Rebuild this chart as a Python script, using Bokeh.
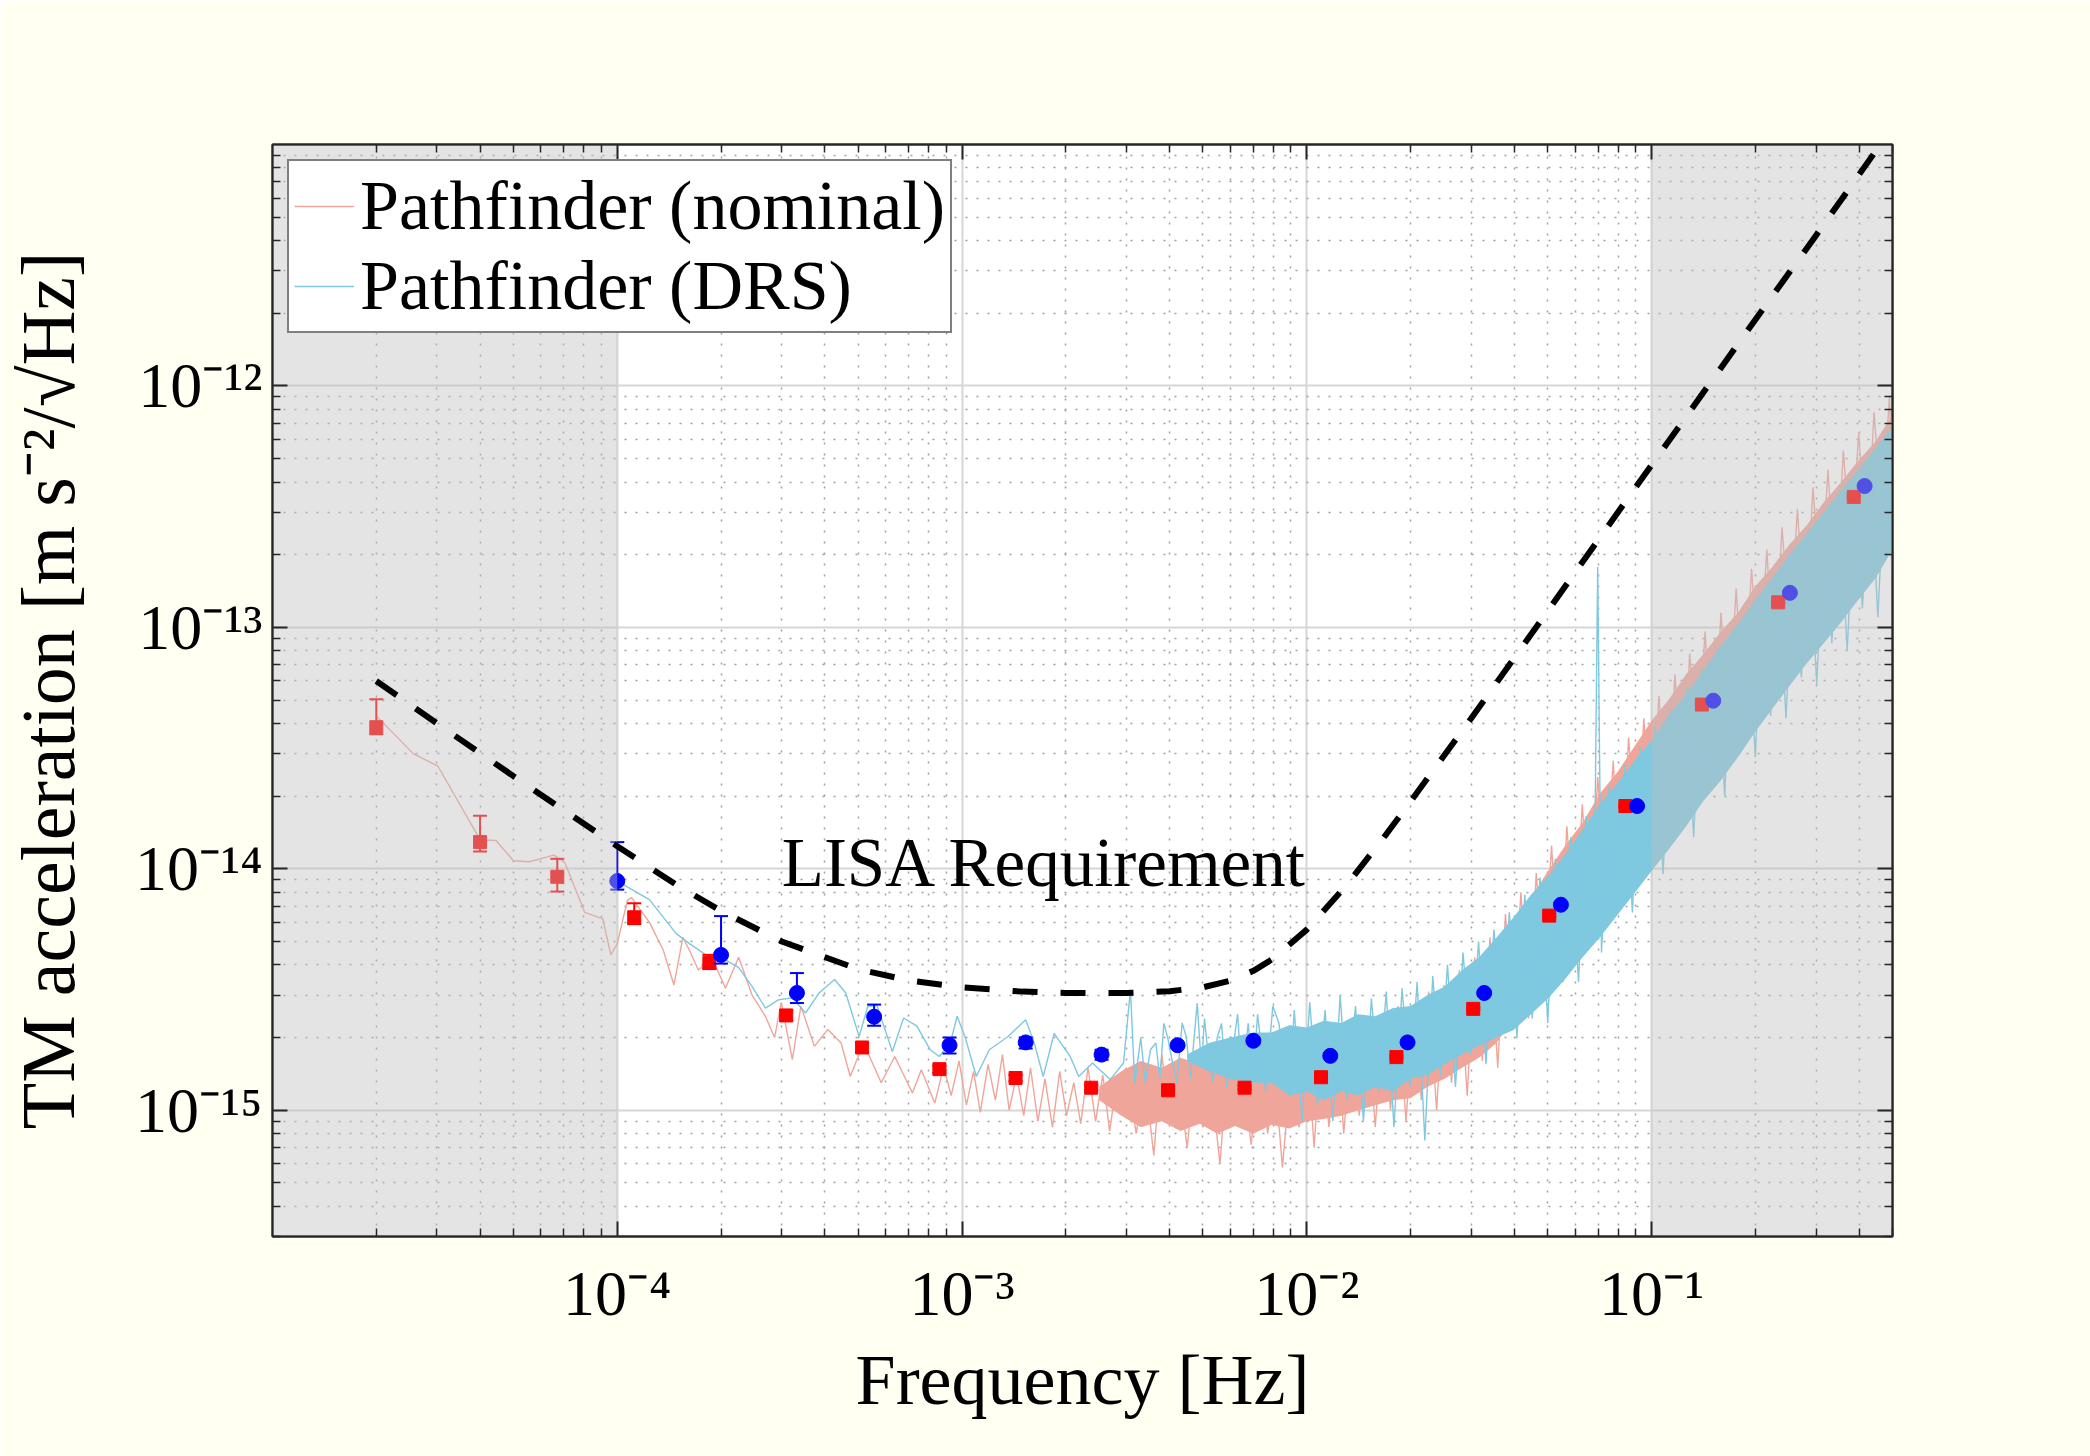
from bokeh.plotting import figure
from bokeh.models import Range1d, LogAxis, FixedTicker, CustomJSTickFormatter, Legend, LegendItem
from bokeh.embed import file_html
from bokeh.resources import INLINE
from bokeh.core.properties import value

# ---------------- axes ----------------
X_RANGE = (1e-5, 0.5)
Y_RANGE = (3e-16, 1e-11)
X_TICKS = [1e-4, 1e-3, 1e-2, 1e-1]
Y_TICKS = [1e-15, 1e-14, 1e-13, 1e-12]
X_MINOR = [m * 10.0 ** e for e in range(-6, 0) for m in range(2, 10)]
Y_MINOR = [m * 10.0 ** e for e in range(-17, -10) for m in range(2, 10)]

# shaded (out-of-band) frequency regions
SHADE_LEFT = [1e-5, 1e-1]
SHADE_RIGHT = [1e-4, 0.5]

# ---------------- Pathfinder (nominal) trace ----------------
NOM_F_LOW = [2.0e-5, 2.56e-5, 3.02e-5, 4.0e-5, 4.45e-5, 5.0e-5, 5.56e-5, 6.55e-5, 7.05e-5, 8.05e-5,
             9.08e-5, 9.58e-5, 1.0e-4, 1.07e-4, 1.10e-4, 1.24e-4, 1.36e-4, 1.46e-4, 1.55e-4, 1.62e-4,
             1.72e-4, 1.88e-4, 2.06e-4, 2.25e-4, 2.46e-4, 2.69e-4, 2.86e-4, 2.99e-4, 3.22e-4, 3.41e-4,
             3.73e-4, 4.08e-4, 4.46e-4, 4.74e-4, 5.18e-4, 5.83e-4, 6.38e-4, 7.18e-4, 7.62e-4, 8.34e-4,
             8.85e-4, 9.3e-4, 9.8e-4, 1.03e-3, 1.08e-3, 1.13e-3, 1.19e-3, 1.25e-3, 1.31e-3, 1.37e-3,
             1.44e-3, 1.51e-3, 1.58e-3, 1.66e-3, 1.74e-3, 1.83e-3, 1.92e-3, 2.01e-3, 2.11e-3, 2.21e-3,
             2.32e-3, 2.44e-3, 2.56e-3, 2.68e-3, 2.82e-3,
             3.0e-3, 3.2e-3, 3.4e-3, 3.6e-3, 3.8e-3, 4.0e-3, 4.25e-3, 4.5e-3, 4.75e-3, 5.0e-3,
             5.3e-3, 5.6e-3, 5.9e-3, 6.2e-3, 6.5e-3, 6.9e-3, 7.3e-3, 7.7e-3, 8.1e-3, 8.5e-3,
             9.0e-3, 9.5e-3]
NOM_A_LOW = [4.3e-14, 3.0e-14, 2.66e-14, 1.32e-14, 1.31e-14, 1.08e-14, 1.07e-14, 1.14e-14, 1.06e-14, 6.6e-15,
             6.2e-15, 4.4e-15, 4.9e-15, 7.4e-15, 7.6e-15, 6.0e-15, 4.6e-15, 3.3e-15, 5.2e-15, 4.6e-15,
             3.8e-15, 4.3e-15, 3.2e-15, 4.3e-15, 3.0e-15, 2.45e-15, 2.0e-15, 2.8e-15, 1.62e-15, 2.7e-15,
             1.84e-15, 2.16e-15, 1.9e-15, 1.38e-15, 1.9e-15, 1.3e-15, 1.67e-15, 1.18e-15, 1.47e-15, 1.07e-15,
             1.52e-15, 1.15e-15, 1.6e-15, 1.05e-15, 1.45e-15, 0.98e-15, 1.55e-15, 1.1e-15, 1.7e-15, 1.0e-15,
             1.4e-15, 0.95e-15, 1.5e-15, 0.9e-15, 1.35e-15, 0.85e-15, 1.45e-15, 0.95e-15, 1.3e-15, 0.88e-15,
             1.5e-15, 0.9e-15, 1.4e-15, 0.82e-15, 1.35e-15,
             1.5e-15, 0.8e-15, 1.35e-15, 0.65e-15, 1.7e-15, 0.9e-15, 1.3e-15, 0.7e-15, 1.55e-15, 0.85e-15,
             1.25e-15, 0.6e-15, 1.6e-15, 0.95e-15, 1.4e-15, 0.72e-15, 1.75e-15, 0.8e-15, 1.35e-15, 0.58e-15,
             1.5e-15, 0.85e-15]
NOM_F_HIGH = [1.0e-2, 1.05e-2, 1.1e-2, 1.16e-2, 1.22e-2, 1.28e-2, 1.35e-2, 1.42e-2,
              1.5e-2, 1.58e-2, 1.66e-2, 1.75e-2, 1.84e-2, 1.94e-2, 2.04e-2, 2.15e-2, 2.26e-2, 2.38e-2,
              2.5e-2, 2.63e-2, 2.77e-2, 2.92e-2, 3.07e-2, 3.23e-2, 3.4e-2, 3.58e-2, 3.77e-2, 3.97e-2,
              4.18e-2, 4.4e-2, 4.63e-2, 4.87e-2, 5.13e-2, 5.4e-2, 5.68e-2, 5.98e-2, 6.3e-2, 6.63e-2,
              6.98e-2, 7.35e-2, 7.74e-2, 8.15e-2, 8.58e-2, 9.03e-2, 9.5e-2,
              0.1, 0.105, 0.111, 0.117, 0.123, 0.129, 0.136, 0.143, 0.151, 0.159,
              0.167, 0.176, 0.185, 0.195, 0.205, 0.216, 0.227, 0.239, 0.252, 0.265,
              0.279, 0.294, 0.309, 0.325, 0.342, 0.36, 0.379, 0.399, 0.42, 0.442,
              0.465, 0.49, 0.5]
NOM_A_HIGH = [2.1e-15, 0.7e-15, 1.9e-15, 0.85e-15, 2.2e-15, 0.8e-15, 2.0e-15, 0.95e-15,
              2.4e-15, 0.85e-15, 2.3e-15, 1.0e-15, 2.7e-15, 0.9e-15, 2.6e-15, 1.1e-15, 3.1e-15, 1.0e-15,
              3.3e-15, 1.3e-15, 3.8e-15, 1.15e-15, 4.3e-15, 1.6e-15, 5.2e-15, 1.5e-15, 6.5e-15, 2.3e-15,
              8.0e-15, 2.4e-15, 9.6e-15, 3.5e-15, 12.5e-15, 3.5e-15, 15e-15, 5.3e-15, 18.5e-15, 5.4e-15,
              24e-15, 8.2e-15, 28e-15, 8.0e-15, 35e-15, 12.5e-15, 42e-15,
              1.2e-14, 5.2e-14, 1.9e-14, 6.4e-14, 1.8e-14, 7.8e-14, 2.8e-14, 9.6e-14, 2.7e-14, 11.5e-14,
              4.1e-14, 14.5e-14, 4.1e-14, 17.5e-14, 6.3e-14, 21e-14, 6.2e-14, 26e-14, 9.5e-14, 31e-14,
              9.2e-14, 38e-14, 14e-14, 45e-14, 13e-14, 54e-14, 20e-14, 64e-14, 19e-14, 78e-14,
              29e-14, 90e-14, 33e-14]
NOM_F = NOM_F_LOW + NOM_F_HIGH
NOM_A = NOM_A_LOW + NOM_A_HIGH

# dense body of the nominal spectrum (core of the noise band)
NOM_BAND_F = [2.5e-3, 2.9e-3, 3.3e-3, 3.8e-3, 4.3e-3, 4.9e-3, 5.5e-3, 6.2e-3, 7.0e-3, 7.9e-3,
              8.9e-3, 1.0e-2, 1.12e-2, 1.26e-2, 1.41e-2, 1.58e-2, 1.78e-2, 2.0e-2, 2.24e-2, 2.51e-2,
              2.82e-2, 3.16e-2, 3.55e-2, 3.98e-2, 4.47e-2, 5.01e-2, 5.62e-2, 6.31e-2, 7.08e-2, 7.94e-2,
              8.91e-2, 0.1, 0.112, 0.126, 0.141, 0.158, 0.178, 0.2, 0.224, 0.251,
              0.282, 0.316, 0.355, 0.398, 0.447, 0.5]
NOM_BAND_LO = [1.1e-15, 0.95e-15, 0.85e-15, 0.9e-15, 0.82e-15, 0.88e-15, 0.8e-15, 0.86e-15, 0.8e-15, 0.87e-15,
               0.84e-15, 0.9e-15, 0.92e-15, 0.95e-15, 1.0e-15, 1.05e-15, 1.1e-15, 1.12e-15, 1.25e-15, 1.35e-15,
               1.5e-15, 1.65e-15, 1.9e-15, 2.4e-15, 3.0e-15, 3.7e-15, 4.6e-15, 6.0e-15, 7.4e-15, 9.5e-15,
               1.18e-14, 1.5e-14, 1.85e-14, 2.4e-14, 2.8e-14, 3.5e-14, 4.2e-14, 5.4e-14, 6.4e-14, 8.0e-14,
               9.6e-14, 1.2e-13, 1.45e-13, 1.8e-13, 2.15e-13, 2.75e-13]
NOM_BAND_HI = [1.25e-15, 1.45e-15, 1.6e-15, 1.5e-15, 1.65e-15, 1.55e-15, 1.6e-15, 1.7e-15, 1.58e-15, 1.72e-15,
               1.65e-15, 1.8e-15, 1.75e-15, 1.95e-15, 1.9e-15, 2.2e-15, 2.15e-15, 2.45e-15, 2.6e-15, 3.1e-15,
               3.5e-15, 4.1e-15, 4.9e-15, 6.2e-15, 7.6e-15, 9.8e-15, 1.25e-14, 1.55e-14, 2.05e-14, 2.5e-14,
               3.2e-14, 4.1e-14, 5.0e-14, 6.4e-14, 7.7e-14, 9.5e-14, 1.15e-13, 1.48e-13, 1.78e-13, 2.2e-13,
               2.65e-13, 3.3e-13, 4.0e-13, 4.9e-13, 5.9e-13, 7.6e-13]

# ---------------- Pathfinder (DRS) trace ----------------
DRS_F_LOW = [1.0e-4, 1.24e-4, 1.48e-4, 1.62e-4, 1.83e-4, 2.06e-4, 2.25e-4, 2.46e-4, 2.69e-4, 2.94e-4,
             3.22e-4, 3.52e-4, 3.85e-4, 4.27e-4, 4.6e-4, 5.03e-4, 5.33e-4, 5.66e-4, 6.28e-4, 6.77e-4,
             7.4e-4, 8.09e-4, 8.59e-4, 9.25e-4, 9.68e-4, 1.02e-3, 1.10e-3, 1.2e-3, 1.36e-3, 1.53e-3,
             1.62e-3, 1.72e-3, 1.85e-3, 2.06e-3, 2.18e-3, 2.39e-3, 2.69e-3, 2.94e-3, 3.08e-3, 3.17e-3,
             3.3e-3, 3.4e-3, 3.52e-3, 3.65e-3, 3.75e-3, 3.85e-3, 3.95e-3, 4.08e-3, 4.2e-3, 4.35e-3,
             4.47e-3, 4.6e-3, 4.81e-3, 4.95e-3, 5.05e-3, 5.18e-3, 5.35e-3, 5.5e-3, 5.66e-3, 5.85e-3,
             6.1e-3, 6.3e-3, 6.5e-3, 6.76e-3, 7.0e-3, 7.2e-3, 7.4e-3, 7.6e-3, 7.97e-3, 8.3e-3,
             8.6e-3, 8.9e-3]
DRS_A_LOW = [8.9e-15, 7.45e-15, 5.4e-15, 4.9e-15, 4.35e-15, 4.2e-15, 3.9e-15, 3.26e-15, 2.65e-15, 2.87e-15,
             2.92e-15, 2.53e-15, 3.06e-15, 3.48e-15, 3.06e-15, 2.02e-15, 2.69e-15, 2.73e-15, 1.75e-15, 2.41e-15,
             2.23e-15, 1.78e-15, 1.67e-15, 1.9e-15, 2.45e-15, 2.02e-15, 1.38e-15, 1.78e-15, 2.02e-15, 2.37e-15,
             1.9e-15, 1.38e-15, 2.08e-15, 1.67e-15, 1.38e-15, 1.57e-15, 1.34e-15, 1.57e-15, 3.16e-15, 1.29e-15,
             2.0e-15, 1.3e-15, 1.78e-15, 1.9e-15, 1.35e-15, 2.29e-15, 2.0e-15, 1.57e-15, 1.3e-15, 2.3e-15,
             2.02e-15, 1.35e-15, 2.78e-15, 1.5e-15, 2.4e-15, 1.67e-15, 1.3e-15, 2.0e-15, 2.29e-15, 1.25e-15,
             1.78e-15, 2.5e-15, 1.3e-15, 2.29e-15, 1.4e-15, 2.5e-15, 1.78e-15, 1.2e-15, 2.7e-15, 2.3e-15,
             1.57e-15, 1.2e-15]
DRS_F_HIGH = [9.2e-3, 9.7e-3, 1.02e-2, 1.075e-2, 1.13e-2, 1.19e-2, 1.25e-2, 1.31e-2, 1.385e-2, 1.46e-2,
              1.54e-2, 1.62e-2, 1.7e-2, 1.79e-2, 1.89e-2, 1.99e-2, 2.09e-2, 2.2e-2, 2.32e-2, 2.44e-2,
              2.56e-2, 2.7e-2, 2.84e-2, 2.99e-2, 3.15e-2, 3.31e-2, 3.49e-2, 3.67e-2, 3.87e-2, 4.07e-2,
              4.29e-2, 4.51e-2, 4.75e-2, 5.0e-2, 5.26e-2, 5.54e-2, 5.83e-2, 6.14e-2, 6.46e-2, 6.8e-2,
              6.98e-2, 7.16e-2, 7.54e-2, 7.94e-2, 8.36e-2, 8.8e-2, 9.26e-2, 9.75e-2,
              0.1025, 0.108, 0.114, 0.12, 0.126, 0.1325, 0.1395, 0.147, 0.155, 0.163,
              0.1715, 0.1805, 0.19, 0.2, 0.2105, 0.2215, 0.233, 0.2455, 0.2585, 0.272,
              0.2865, 0.3015, 0.317, 0.3335, 0.351, 0.3695, 0.389, 0.409, 0.431, 0.4535,
              0.4775, 0.5]
DRS_A_HIGH = [2.6e-15, 0.9e-15, 2.8e-15, 1.05e-15, 2.6e-15, 0.9e-15, 3.0e-15, 1.1e-15, 2.7e-15, 0.9e-15,
              2.9e-15, 1.2e-15, 3.1e-15, 0.85e-15, 3.2e-15, 1.25e-15, 3.4e-15, 0.75e-15, 3.6e-15, 1.4e-15,
              4.0e-15, 1.25e-15, 4.5e-15, 1.7e-15, 5.0e-15, 1.55e-15, 5.6e-15, 2.2e-15, 6.6e-15, 2.0e-15,
              7.8e-15, 2.4e-15, 9.2e-15, 2.3e-15, 11e-15, 3.4e-15, 13.5e-15, 3.4e-15, 16.5e-15, 5.0e-15,
              1.78e-13, 4.5e-15, 22e-15, 6.7e-15, 27e-15, 6.6e-15, 32e-15, 10e-15,
              3.9e-14, 0.95e-14, 4.6e-14, 1.5e-14, 5.6e-14, 1.35e-14, 6.8e-14, 2.15e-14, 8.2e-14, 2.0e-14,
              9.8e-14, 3.0e-14, 11.5e-14, 2.9e-14, 14e-14, 4.3e-14, 17e-14, 4.2e-14, 20e-14, 6.2e-14,
              23.5e-14, 5.8e-14, 28e-14, 8.6e-14, 33e-14, 8.0e-14, 38e-14, 12e-14, 46e-14, 11e-14,
              54e-14, 16e-14]
DRS_F = DRS_F_LOW + DRS_F_HIGH
DRS_A = DRS_A_LOW + DRS_A_HIGH

DRS_BAND_F = [4.5e-3, 5.2e-3, 6.0e-3, 7.0e-3, 7.9e-3, 8.9e-3, 1.0e-2, 1.12e-2, 1.26e-2, 1.41e-2,
              1.58e-2, 1.78e-2, 2.0e-2, 2.24e-2, 2.51e-2, 2.82e-2, 3.16e-2, 3.55e-2, 3.98e-2, 4.47e-2,
              5.01e-2, 5.62e-2, 6.31e-2, 7.08e-2, 7.94e-2, 8.91e-2, 0.1, 0.112, 0.126, 0.141,
              0.158, 0.178, 0.2, 0.224, 0.251, 0.282, 0.316, 0.355, 0.398, 0.447, 0.5]
DRS_BAND_LO = [1.6e-15, 1.45e-15, 1.35e-15, 1.3e-15, 1.3e-15, 1.15e-15, 1.2e-15, 1.1e-15, 1.2e-15, 1.15e-15,
               1.25e-15, 1.2e-15, 1.35e-15, 1.4e-15, 1.55e-15, 1.7e-15, 1.85e-15, 2.0e-15, 2.15e-15, 2.5e-15,
               2.9e-15, 3.5e-15, 4.3e-15, 5.2e-15, 6.4e-15, 7.9e-15, 9.8e-15, 1.2e-14, 1.5e-14, 1.9e-14,
               2.3e-14, 2.9e-14, 3.7e-14, 4.6e-14, 5.7e-14, 7.1e-14, 8.6e-14, 1.05e-13, 1.3e-13, 1.6e-13, 2.1e-13]
DRS_BAND_HI = [1.7e-15, 1.9e-15, 2.0e-15, 2.1e-15, 2.1e-15, 2.25e-15, 2.2e-15, 2.35e-15, 2.3e-15, 2.5e-15,
               2.45e-15, 2.65e-15, 2.7e-15, 3.0e-15, 3.25e-15, 3.8e-15, 4.3e-15, 5.2e-15, 6.3e-15, 7.8e-15,
               9.3e-15, 1.15e-14, 1.45e-14, 1.85e-14, 2.25e-14, 2.8e-14, 3.4e-14, 4.3e-14, 5.3e-14, 6.6e-14,
               8.3e-14, 1.03e-13, 1.3e-13, 1.6e-13, 2.0e-13, 2.45e-13, 3.0e-13, 3.7e-13, 4.5e-13, 5.55e-13, 6.8e-13]

# ---------------- binned estimates with error bars ----------------
NOM_PT_F = [2.0e-5, 4.0e-5, 6.7e-5, 1.12e-4, 1.85e-4, 3.09e-4, 5.13e-4, 8.6e-4, 1.43e-3, 2.37e-3,
            3.96e-3, 6.6e-3, 1.1e-2, 1.82e-2, 3.04e-2, 5.05e-2, 8.4e-2, 0.14, 0.233, 0.386]
NOM_PT_A = [3.86e-14, 1.29e-14, 9.27e-15, 6.3e-15, 4.07e-15, 2.47e-15, 1.82e-15, 1.48e-15, 1.36e-15, 1.24e-15,
            1.21e-15, 1.24e-15, 1.37e-15, 1.66e-15, 2.63e-15, 6.4e-15, 1.82e-14, 4.79e-14, 1.27e-13, 3.47e-13]
NOM_PT_LO = [3.61e-14, 1.18e-14, 8.05e-15, 5.9e-15, 3.85e-15, 2.35e-15, 1.74e-15, 1.43e-15, 1.32e-15, 1.21e-15,
             1.19e-15, 1.22e-15, 1.35e-15, 1.64e-15, 2.6e-15, 6.3e-15, 1.8e-14, 4.74e-14, 1.26e-13, 3.44e-13]
NOM_PT_HI = [5.04e-14, 1.66e-14, 1.1e-14, 7.2e-15, 4.4e-15, 2.6e-15, 1.9e-15, 1.53e-15, 1.4e-15, 1.27e-15,
             1.23e-15, 1.26e-15, 1.39e-15, 1.68e-15, 2.66e-15, 6.5e-15, 1.84e-14, 4.84e-14, 1.28e-13, 3.5e-13]

DRS_PT_F = [1.0e-4, 2.0e-4, 3.32e-4, 5.56e-4, 9.2e-4, 1.53e-3, 2.54e-3, 4.22e-3, 7.0e-3, 1.17e-2,
            1.96e-2, 3.27e-2, 5.46e-2, 9.08e-2, 0.151, 0.252, 0.415]
DRS_PT_A = [8.9e-15, 4.4e-15, 3.06e-15, 2.44e-15, 1.86e-15, 1.91e-15, 1.7e-15, 1.86e-15, 1.94e-15, 1.68e-15,
            1.91e-15, 3.06e-15, 7.1e-15, 1.82e-14, 4.97e-14, 1.39e-13, 3.85e-13]
DRS_PT_LO = [8.2e-15, 4.05e-15, 2.78e-15, 2.24e-15, 1.72e-15, 1.8e-15, 1.62e-15, 1.82e-15, 1.9e-15, 1.65e-15,
             1.88e-15, 3.02e-15, 7.0e-15, 1.8e-14, 4.92e-14, 1.38e-13, 3.82e-13]
DRS_PT_HI = [1.29e-14, 6.37e-15, 3.7e-15, 2.74e-15, 2.0e-15, 2.0e-15, 1.78e-15, 1.9e-15, 1.98e-15, 1.71e-15,
             1.94e-15, 3.1e-15, 7.2e-15, 1.84e-14, 5.02e-14, 1.4e-13, 3.88e-13]

# ---------------- LISA requirement ----------------
LISA_F = [2e-5, 3e-5, 5e-5, 1e-4, 1.5e-4, 2e-4, 3e-4, 5e-4, 7e-4, 1e-3, 1.5e-3, 2e-3, 3e-3, 4e-3,
          5e-3, 6e-3, 7e-3, 8e-3, 1e-2, 1.3e-2, 1.7e-2, 2e-2, 3e-2, 5e-2, 0.1, 0.2, 0.3, 0.44]
LISA_A = [6.0e-14, 4.0e-14, 2.42e-14, 1.24e-14, 8.5e-15, 6.7e-15, 5.0e-15, 3.84e-15, 3.45e-15, 3.23e-15,
          3.1e-15, 3.06e-15, 3.06e-15, 3.11e-15, 3.23e-15, 3.44e-15, 3.78e-15, 4.25e-15, 5.6e-15, 8.5e-15,
          1.39e-14, 1.9e-14, 4.2e-14, 1.17e-13, 4.7e-13, 1.88e-12, 4.2e-12, 9.1e-12]
LISA_LABEL = "LISA Requirement"
LISA_LABEL_POS = (3.0e-4, 1.06e-14)

# ---------------- styling ----------------
FONT = "Liberation Serif"
NOM_COLOR = "#F0A59B"
DRS_COLOR = "#7EC8E0"
PAGE_BG = "#FFFFF2"
FRAME = "#262626"

p = figure(width=2090, height=1456, x_axis_type="log", y_axis_type="log",
           x_range=Range1d(*X_RANGE), y_range=Range1d(*Y_RANGE),
           output_backend="svg", toolbar_location=None, title=None,
           min_border_left=272, min_border_right=198, min_border_top=144, min_border_bottom=220,
           background_fill_color="white", border_fill_color=PAGE_BG,
           outline_line_color=FRAME, outline_line_width=2)

fmt = CustomJSTickFormatter(code=r"""
const e = Math.round(Math.log10(tick));
const m = {'-':'\u207b','0':'\u2070','1':'\u00b9','2':'\u00b2','3':'\u00b3','4':'\u2074',
           '5':'\u2075','6':'\u2076','7':'\u2077','8':'\u2078','9':'\u2079'};
let out = '10';
for (const c of String(e)) { out += m[c]; }
return out;
""")
blank = CustomJSTickFormatter(code="return '';")


def style_axis(ax, ticks, minor):
    ax.ticker = FixedTicker(ticks=ticks, minor_ticks=minor)
    ax.axis_line_color = FRAME
    ax.axis_line_width = 2
    ax.major_tick_in = 15
    ax.major_tick_out = 0
    ax.minor_tick_in = 8
    ax.minor_tick_out = 0
    ax.major_tick_line_color = FRAME
    ax.major_tick_line_width = 2
    ax.minor_tick_line_color = FRAME
    ax.minor_tick_line_width = 1.5
    ax.major_label_text_font = FONT
    ax.major_label_text_font_size = "64px"
    ax.major_label_text_color = "black"
    ax.axis_label_text_font = FONT
    ax.axis_label_text_font_size = "72px"
    ax.axis_label_text_font_style = "normal"
    ax.axis_label_text_color = "black"


xax = p.xaxis[0]
yax = p.yaxis[0]
style_axis(xax, X_TICKS, X_MINOR)
style_axis(yax, Y_TICKS, Y_MINOR)
xax.formatter = fmt
yax.formatter = fmt
xax.axis_label = "Frequency [Hz]"
yax.axis_label = "TM acceleration [m s\u207b\u00b2/\u221aHz]"
xax.major_label_standoff = 21
xax.axis_label_standoff = 8
yax.major_label_standoff = 10
yax.axis_label_text_font_size = "76px"
yax.axis_label_text_line_height = 0.9
yax.axis_label_standoff = 42

top = LogAxis()
right = LogAxis()
style_axis(top, X_TICKS, X_MINOR)
style_axis(right, Y_TICKS, Y_MINOR)
top.formatter = blank
right.formatter = blank
top.major_label_text_font_size = "0px"
right.major_label_text_font_size = "0px"
p.add_layout(top, "above")
p.add_layout(right, "right")

for g, ticks, minor in ((p.xgrid[0], X_TICKS, X_MINOR), (p.ygrid[0], Y_TICKS, Y_MINOR)):
    g.ticker = FixedTicker(ticks=ticks, minor_ticks=minor)
    g.grid_line_color = "#D6D6D6"
    g.grid_line_width = 2
    g.minor_grid_line_color = "#A0A0A0"
    g.minor_grid_line_width = 1.5
    g.minor_grid_line_dash = "2 9"

# spectra
p.varea(x=NOM_BAND_F, y1=NOM_BAND_LO, y2=NOM_BAND_HI, fill_color=NOM_COLOR, fill_alpha=1)
nom_line = p.line(NOM_F, NOM_A, line_color=NOM_COLOR, line_width=1.4)
p.varea(x=DRS_BAND_F, y1=DRS_BAND_LO, y2=DRS_BAND_HI, fill_color=DRS_COLOR, fill_alpha=1)
drs_line = p.line(DRS_F, DRS_A, line_color=DRS_COLOR, line_width=1.4)

# binned points with error bars
for f, a, lo, hi, col, mk, sz in ((NOM_PT_F, NOM_PT_A, NOM_PT_LO, NOM_PT_HI, "#FF0000", "square", 13),
                                  (DRS_PT_F, DRS_PT_A, DRS_PT_LO, DRS_PT_HI, "#0000FF", "circle", 15)):
    p.segment(x0=f, y0=lo, x1=f, y1=hi, line_color=col, line_width=2)
    p.scatter(f, lo, marker="dash", size=14, line_color=col, line_width=2)
    p.scatter(f, hi, marker="dash", size=14, line_color=col, line_width=2)
    p.scatter(f, a, marker=mk, size=sz, fill_color=col, line_color=col)

# out-of-band shading drawn over the data
p.quad(left=SHADE_LEFT, right=SHADE_RIGHT, bottom=Y_RANGE[0], top=Y_RANGE[1],
       fill_color="#BEBEBE", fill_alpha=0.42, line_color=None)

# LISA requirement
p.line(LISA_F, LISA_A, line_color="black", line_width=6, line_dash="25 23")
p.text(x=[LISA_LABEL_POS[0]], y=[LISA_LABEL_POS[1]], text=[LISA_LABEL],
       text_font=value(FONT), text_font_size="69px", text_color="black",
       text_align="left", text_baseline="alphabetic")

legend = Legend(items=[LegendItem(label="Pathfinder (nominal)", renderers=[nom_line]),
                       LegendItem(label="Pathfinder (DRS)", renderers=[drs_line])],
                location="top_left")
legend.label_text_font = FONT
legend.label_text_font_size = "70px"
legend.label_text_color = "black"
legend.border_line_color = "black"
legend.border_line_width = 2
legend.background_fill_color = "white"
legend.background_fill_alpha = 1
legend.glyph_width = 60
legend.glyph_height = 20
legend.label_standoff = 6
legend.padding = 5
legend.spacing = 0
legend.margin = 15
p.add_layout(legend)

open("out.html", "w").write(file_html(p, INLINE))
